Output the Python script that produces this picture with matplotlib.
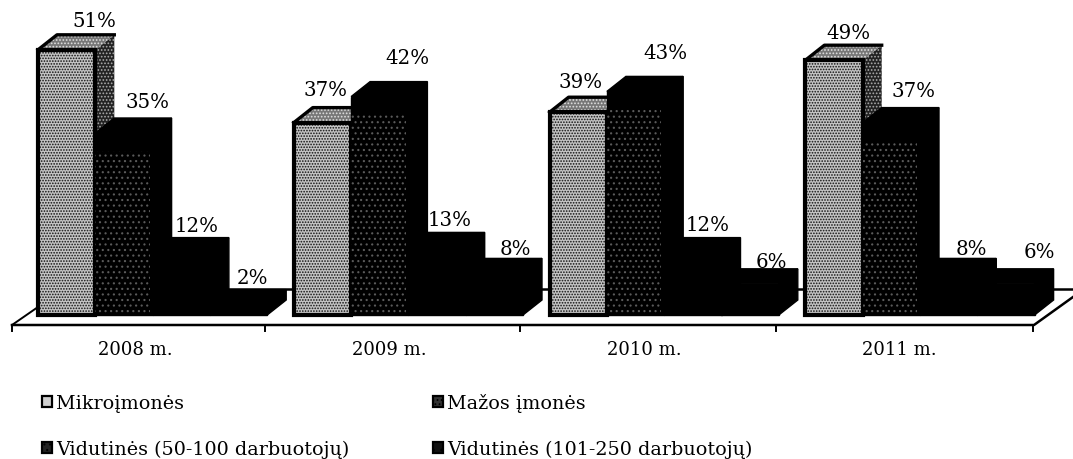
import matplotlib
matplotlib.use('Agg')
import matplotlib.pyplot as plt
from matplotlib.patches import Patch

years = ['2008 m.', '2009 m.', '2010 m.', '2011 m.']
series_names = ['Mikroįmonės', 'Mažos įmonės', 'Vidutinės (50-100 darbuotojų)', 'Vidutinės (101-250 darbuotojų)']
mikro = [51, 37, 39, 49]
mazos = [35, 42, 43, 37]
vid_50 = [12, 13, 12, 8]
vid_101 = [2, 8, 6, 6]

# label offsets in pixels from the left of each bar / from the back top edge
label_dx = [[56, 52, 44, 43], [32, 56, 41, 50], [31, 59, 43, 50], [43, 51, 51, 62]]
label_dy = [[14, 16, 12, 12], [18, 24, 13, 10], [16, 24, 13, 7], [13, 17, 10, 17]]

W, H = 1073, 460
group_px = 255.8
unit_px = 5.2
left_px = 38
base_px = 316
bar_w = 57.3 / group_px
dx = 19 / group_px
dy = 15 / unit_px

plt.rcParams['font.family'] = 'DejaVu Serif'
plt.rcParams['hatch.linewidth'] = 0.8

fig = plt.figure(figsize=(W / 100, H / 100), dpi=100)
ax = fig.add_axes([0, 0, 1, 1])
ax.set_xlim(-left_px / group_px, (W - left_px) / group_px)
ax.set_ylim(-(H - base_px) / unit_px, base_px / unit_px)
ax.axis('off')


def px(x):
    return (x - left_px) / group_px


def py(y):
    return (base_px - y) / unit_px


# floor
ax.plot([px(12), px(1034), px(1073)], [py(326), py(326), py(298)], color='k', lw=1.8, zorder=1)
ax.plot([px(12), px(38)], [py(326), py(308)], color='k', lw=1.4, zorder=1)
ax.plot([px(38), px(1073)], [py(290), py(290)], color='k', lw=1.8, zorder=1)
for t in [12, 265, 520, 776, 1033]:
    ax.plot([px(t), px(t)], [py(326), py(332)], color='k', lw=1.4, zorder=1)

all_values = [mikro, mazos, vid_50, vid_101]

z = 2
for g in range(len(years)):
    for s, values in enumerate(all_values):
        v = values[g]
        x0 = g + s * bar_w
        x1 = x0 + bar_w
        xs_side = [x1, x1 + dx, x1 + dx, x1]
        ys_side = [0, dy, v + dy, v]
        xs_top = [x0, x0 + dx, x1 + dx, x1]
        ys_top = [v, v + dy, v + dy, v]
        if s == 0:
            ax.fill(xs_side, ys_side, facecolor='#222222', edgecolor='#aaaaaa', hatch='.....', lw=0, zorder=z)
            ax.fill(xs_top, ys_top, facecolor='#777777', edgecolor='#e0e0e0', hatch='.....', lw=0, zorder=z)
            ax.plot([x0, x0 + dx, x1 + dx], [v, v + dy, v + dy], color='k', lw=2.4, zorder=z + 0.1)
            ax.bar(x0, v, bar_w, align='edge', facecolor='#c4c4c4', edgecolor='#111111', hatch='......',
                   lw=0, zorder=z + 0.2)
            ax.bar(x0, v, bar_w, align='edge', fill=False, edgecolor='k', lw=3, zorder=z + 0.3)
        else:
            ax.fill(xs_side, ys_side, color='k', lw=1, zorder=z)
            ax.fill(xs_top, ys_top, color='k', lw=1, zorder=z)
            ax.bar(x0, v, bar_w, align='edge', color='k', lw=1, edgecolor='k', zorder=z + 0.2)
            if s == 1:
                # sparse pale specks on the second bar only
                ax.bar(x0, v - 3.5, bar_w * 0.95, align='edge', facecolor='k', edgecolor='#5a5a5a',
                       hatch='...', lw=0, zorder=z + 0.3)
        z += 1
        ax.annotate('%d%%' % v, xy=(x0, v + dy), xytext=(label_dx[g][s] * 0.72, label_dy[g][s] * 0.72),
                    textcoords='offset points', ha='center', va='center', fontsize=14.2, zorder=40)
    ax.text(g + 97 / group_px - 0.004 * g, py(350), years[g], ha='center', va='center', fontsize=13)

handles = [
    Patch(facecolor='#d0d0d0', edgecolor='k', lw=1.6),
    Patch(facecolor='#333333', edgecolor='k', lw=1.6, hatch='....'),
    Patch(facecolor='#222222', edgecolor='k', lw=1.6, hatch='...'),
    Patch(facecolor='#111111', edgecolor='k', lw=1.6, hatch='..'),
]
order = [0, 2, 1, 3]
fig.legend([handles[i] for i in order], [series_names[i] for i in order], ncol=2,
           loc='lower left', bbox_to_anchor=(42 / W, 0.5 / H), frameon=False, fontsize=13.8,
           borderpad=0, borderaxespad=0, handlelength=0.52, handleheight=0.52, handletextpad=0.2,
           labelspacing=1.45, columnspacing=4.4)

fig.savefig('out.png', dpi=100, facecolor='white')
